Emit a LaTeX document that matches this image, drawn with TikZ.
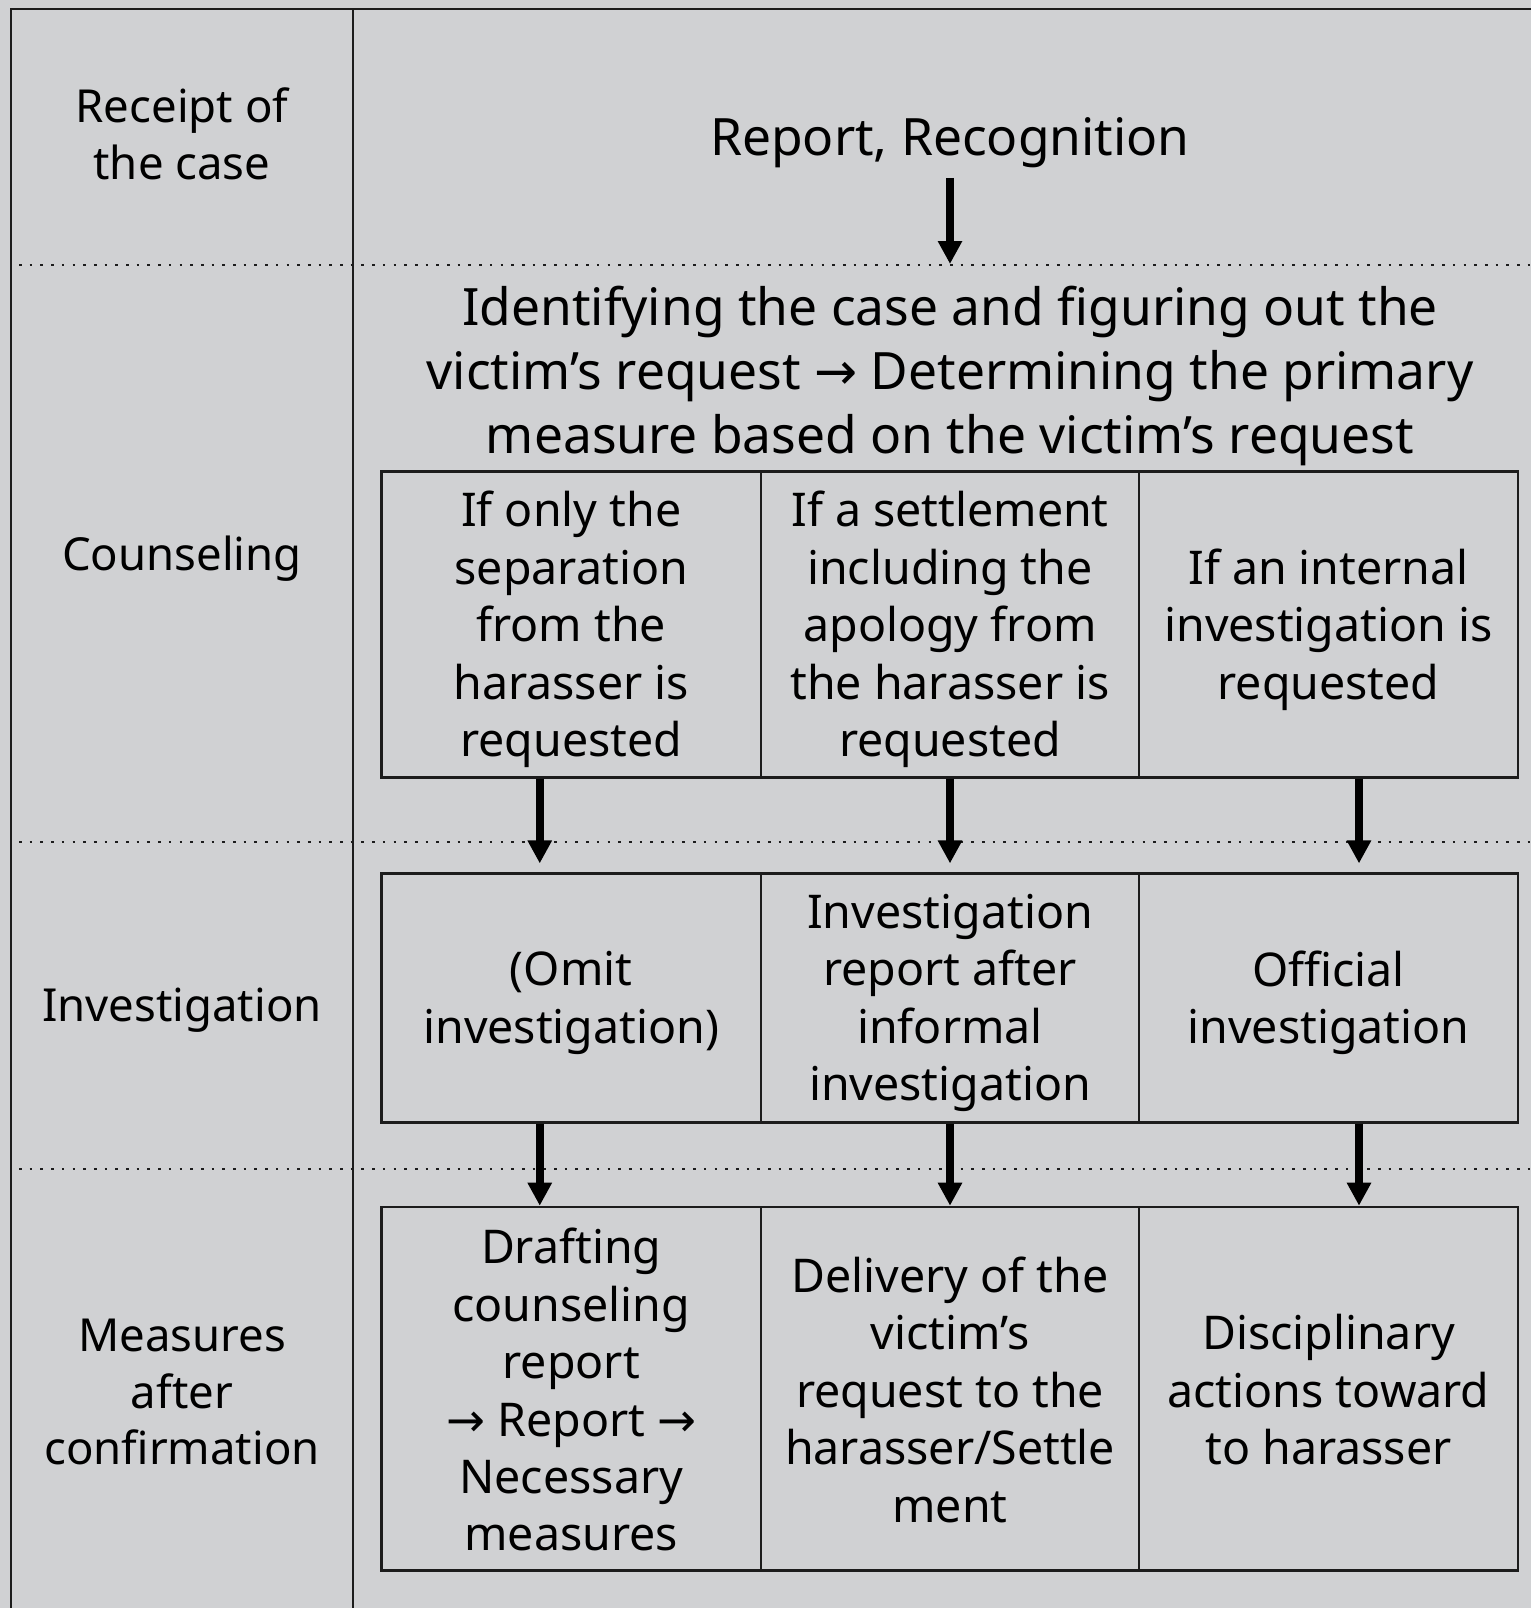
\documentclass[tikz,border=0pt]{standalone}
\usepackage{fontspec}
\setmainfont{Noto Sans}
\newfontfamily\symfont{DejaVu Sans}
\usetikzlibrary{arrows.meta}
\newcommand{\rarr}{{\symfont →}}
\definecolor{bgc}{HTML}{D0D1D3}
\definecolor{ink}{HTML}{1C1C1C}
\tikzset{
  frame/.style={draw=ink,line width=2.6pt},
  dotline/.style={draw=ink,line width=2.6pt,dash pattern=on 2.6pt off 8.1pt},
  cell/.style={draw=ink,line width=2.6pt,fill=none,minimum height=#1,inner sep=0pt,align=center,
    font=\fontsize{46.5}{57.4}\selectfont,text=black},
  celltext/.style={align=center,font=\fontsize{46.5}{57.4}\selectfont,text=black,inner sep=0pt,yshift=-5pt},
  rowlabel/.style={align=center,font=\fontsize{45.5}{56.4}\selectfont,text=black,yshift=-5pt},
  bigtext/.style={align=center,font=\fontsize{51.5}{63.6}\selectfont,text=black,yshift=-5pt},
  bigarrow/.style={draw=black,line width=7.5pt,-{Triangle[width=23pt,length=23pt]}},
}
\begin{document}
\begin{tikzpicture}[x=1pt,y=-1pt]
\fill[bgc] (0,0) rectangle (1531,1608);
\useasboundingbox (0,0) rectangle (1531,1608);
% frame
\draw[frame] (11,1608) -- (11,9) -- (1531,9);
\draw[frame] (353,9) -- (353,1608);
% dotted separators
\draw[dotline] (19,265) -- (1531,265);
\draw[dotline] (19,842) -- (1531,842);
\draw[dotline] (19,1169) -- (1531,1169);
% row labels
\node[rowlabel] (lab1) at (182,129) {Receipt of\\the case};
\node[rowlabel] (lab2) at (182,554) {Counseling};
\node[rowlabel] (lab3) at (182,1005) {Investigation};
\node[rowlabel] (lab4) at (182,1387) {Measures\\after\\confirmation};
% top texts
\node[bigtext] (rep) at (950,138) {Report, Recognition};
\node[bigtext] (hdr) at (950,371) {Identifying the case and figuring out the\\victim’s request \rarr{} Determining the primary\\measure based on the victim’s request};
\coordinate (a0s) at (950,178);
\coordinate (a0e) at (950,264);
\draw[bigarrow] (a0s) -- (a0e);
% row 1 boxes
\node[cell=305.6pt,minimum width=379.5pt] (b11) at (571.25,624.5) {};
\node[cell=305.6pt,minimum width=378pt] (b12) at (950,624.5) {};
\node[cell=305.6pt,minimum width=378.8pt] (b13) at (1328.5,624.5) {};
\node[celltext] (t11) at (b11) {If only the\\separation\\from the\\harasser is\\requested};
\node[celltext] (t12) at (b12) {If a settlement\\including the\\apology from\\the harasser is\\requested};
\node[celltext] (t13) at (b13) {If an internal\\investigation is\\requested};
% row 2 boxes
\node[cell=248.6pt,minimum width=379.5pt] (b21) at (571.25,998) {};
\node[cell=248.6pt,minimum width=378pt] (b22) at (950,998) {};
\node[cell=248.6pt,minimum width=378.8pt] (b23) at (1328.5,998) {};
\node[celltext] (t21) at (b21) {(Omit\\investigation)};
\node[celltext] (t22) at (b22) {Investigation\\report after\\informal\\investigation};
\node[celltext] (t23) at (b23) {Official\\investigation};
% row 3 boxes
\node[cell=363.6pt,minimum width=379.5pt] (b31) at (571.25,1388.8) {};
\node[cell=363.6pt,minimum width=378pt] (b32) at (950,1388.8) {};
\node[cell=363.6pt,minimum width=378.8pt] (b33) at (1328.5,1388.8) {};
\node[celltext,yshift=4pt] (t31) at (b31) {Drafting\\counseling\\report\\\rarr{} Report \rarr{}\\Necessary\\measures};
\node[celltext,yshift=4pt] (t32) at (b32) {Delivery of the\\victim’s\\request to the\\harasser/Settle\\ment};
\node[celltext,yshift=4pt] (t33) at (b33) {Disciplinary\\actions toward\\to harasser};
% arrows
\draw[bigarrow,shorten >=9pt] ([xshift=-31.5pt]b11.south) -- ([xshift=-31.5pt]b21.north);
\draw[bigarrow,shorten >=9pt] (b12.south) -- (b22.north);
\draw[bigarrow,shorten >=9pt] ([xshift=30.5pt]b13.south) -- ([xshift=30.5pt]b23.north);
\draw[bigarrow] ([xshift=-31.5pt]b21.south) -- ([xshift=-31.5pt]b31.north);
\draw[bigarrow] (b22.south) -- (b32.north);
\draw[bigarrow] ([xshift=30.5pt]b23.south) -- ([xshift=30.5pt]b33.north);
\end{tikzpicture}
\end{document}
